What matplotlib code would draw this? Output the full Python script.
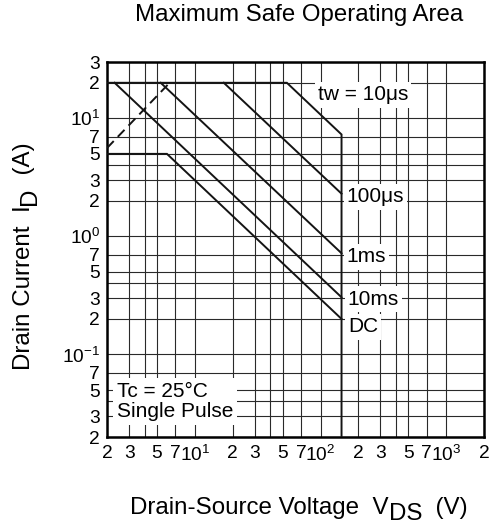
import matplotlib
matplotlib.use("Agg")
import matplotlib.pyplot as plt
from matplotlib.ticker import NullFormatter

plt.rcParams.update({
    "font.family": ["Liberation Sans", "DejaVu Sans"],
    "mathtext.fontset": "custom",
    "mathtext.rm": "Liberation Sans",
    "mathtext.it": "Liberation Sans:italic",
    "mathtext.bf": "Liberation Sans:bold",
})

# === 刻度 ===
x_ticks = [2, 3, 5, 7, 10, 20, 30, 50, 70, 100, 200, 300, 500, 700, 1000, 2000]
x_labels = ["2", "3", "5", "7", r"$\mathregular{10^{1}}$",
            "2", "3", "5", "7", r"$\mathregular{10^{2}}$",
            "2", "3", "5", "7", r"$\mathregular{10^{3}}$", "2"]
x_minor = [4, 40, 400]
y_ticks = [0.02, 0.03, 0.05, 0.07, 0.1, 0.2, 0.3, 0.5, 0.7, 1, 2, 3, 5, 7, 10, 20, 30]
y_labels = ["2", "3", "5", "7", r"$\mathregular{10^{-1}}$",
            "2", "3", "5", "7", r"$\mathregular{10^{0}}$",
            "2", "3", "5", "7", r"$\mathregular{10^{1}}$", "2", "3"]
y_minor = [0.04, 0.4, 4]

# === SOA 曲线 (V, A) ===
v_10us = [2, 54, 147, 147]
i_10us = [20, 20, 7.3, 0.02]
v_100us = [17, 147]
i_100us = [20, 2.3]
v_1ms = [5.35, 147]
i_1ms = [20, 0.72]
v_10ms = [2.3, 147]
i_10ms = [20, 0.305]
v_dc = [2, 6, 147]
i_dc = [5, 5, 0.2]
v_rds = [2, 6.3]          # Rds(on) 限制 (虚线)
i_rds = [5.6, 20]

FS_TICK = 13.8
FS_TXT = 15
FS_LAB = 17.4

fig = plt.figure(figsize=(4.98, 5.24), dpi=100)
ax = fig.add_axes([107 / 498, 87 / 524, 377 / 498, 375 / 524])
ax.set_xscale("log")
ax.set_yscale("log")
ax.set_xlim(2, 2000)
ax.set_ylim(0.02, 30)

ax.set_xticks(x_ticks)
ax.set_xticklabels(x_labels)
ax.set_xticks(x_minor, minor=True)
ax.set_yticks(y_ticks)
ax.set_yticklabels(y_labels)
ax.set_yticks(y_minor, minor=True)
ax.xaxis.set_minor_formatter(NullFormatter())
ax.yaxis.set_minor_formatter(NullFormatter())
ax.tick_params(which="both", length=0, labelsize=FS_TICK)
ax.tick_params(axis="x", pad=6)
ax.tick_params(axis="y", pad=5)
ax.set_axisbelow(True)
ax.grid(which="both", color="#2a2a2a", lw=0.8)
for s in ax.spines.values():
    s.set_linewidth(1.8)

kw = dict(color="#141414", lw=1.4, zorder=4, solid_joinstyle="miter")
ax.plot(v_10us, i_10us, **kw)
ax.plot(v_100us, i_100us, **kw)
ax.plot(v_1ms, i_1ms, **kw)
ax.plot(v_10ms, i_10ms, **kw)
ax.plot(v_dc, i_dc, **kw)
ax.plot(v_rds, i_rds, color="#141414", lw=1.4, ls=(0, (5, 3)), zorder=4)

box = dict(boxstyle="square,pad=0.15", fc="white", ec="none")
ax.text(95, 15.8, "tw = 10μs", fontsize=FS_TXT, va="center", ha="left", bbox=box, zorder=3)
ax.text(162, 2.16, "100μs", fontsize=FS_TXT, va="center", ha="left", bbox=box, zorder=3)
ax.text(162, 0.67, "1ms", fontsize=FS_TXT, va="center", ha="left", bbox=box, zorder=3)
ax.text(165, 0.295, "10ms", fontsize=FS_TXT, va="center", ha="left", bbox=box, zorder=3)
ax.text(165, 0.171, "DC", fontsize=FS_TXT, va="center", ha="left", bbox=box, zorder=3)
ax.text(2.4, 0.04, "Tc = 25°C\nSingle Pulse", fontsize=FS_TXT, va="center", ha="left",
        linespacing=1.05, bbox=dict(boxstyle="square,pad=0.2", fc="white", ec="none"), zorder=3)

fig.text(299 / 498, 1 - 15 / 524, "Maximum Safe Operating Area",
         ha="center", va="center", fontsize=17.3)

# 坐标轴标题 (下标同字号, 下移)
xl1 = fig.text(0.2, 10 / 524, "Drain-Source Voltage  V", fontsize=FS_LAB, ha="left", va="baseline")
xl2 = ax.annotate("DS", xy=(1, 0), xycoords=xl1, xytext=(0, -4.3), textcoords="offset points",
                  ha="left", va="bottom", fontsize=FS_LAB)
xl3 = ax.annotate("  (V)", xy=(1, 0), xycoords=xl2, xytext=(0, 4.3), textcoords="offset points",
                  ha="left", va="bottom", fontsize=FS_LAB)

yl1 = fig.text(24 / 498, 0.3, "Drain Current  I", rotation=90, fontsize=FS_LAB, ha="center", va="bottom")
yl2 = ax.annotate("D", xy=(0, 1), xycoords=yl1, xytext=(4.3, 0), textcoords="offset points",
                  rotation=90, ha="left", va="bottom", fontsize=FS_LAB)
yl3 = ax.annotate("  (A)", xy=(0, 1), xycoords=yl2, xytext=(-4.3, 0), textcoords="offset points",
                  rotation=90, ha="left", va="bottom", fontsize=FS_LAB)

# 居中
fig.canvas.draw()
r = fig.canvas.get_renderer()
bb = [t.get_window_extent(r) for t in (xl1, xl2, xl3)]
cx = (min(b.x0 for b in bb) + max(b.x1 for b in bb)) / 2
xl1.set_x(xl1.get_position()[0] + (299 - cx) / fig.bbox.width)
bb = [t.get_window_extent(r) for t in (yl1, yl2, yl3)]
cy = (min(b.y0 for b in bb) + max(b.y1 for b in bb)) / 2
yl1.set_y(yl1.get_position()[1] + ((524 - 256) - cy) / fig.bbox.height)

fig.savefig("out.png", dpi=100)
